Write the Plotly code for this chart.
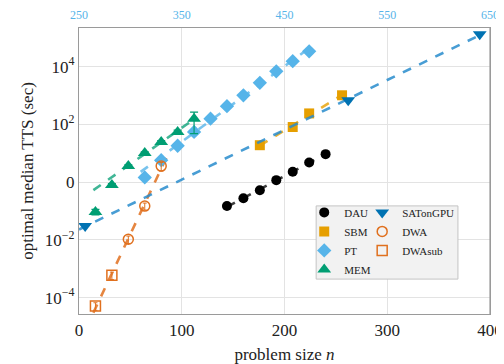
import numpy as np
import plotly.graph_objects as go

# ---- data ----
dau_n = [144, 160, 176, 192, 208, 224, 240]
dau_t = [0.148, 0.275, 0.52, 1.17, 2.3, 4.8, 9.3]

sbm_n = [176, 208, 224, 256]
sbm_t = [19, 81, 240, 1020]

pt_n = [64, 80, 96, 112, 128, 144, 160, 176, 192, 208, 224]
pt_t = [1.45, 5.75, 18.2, 55, 158, 427, 1020, 2750, 6900, 15500, 34000]

mem_n = [16, 32, 48, 64, 80, 96, 112]
mem_t = [0.093, 0.79, 3.6, 10.2, 24.5, 55, 158]
mem_err = [0.02, 0.1, 0.4, 1.0, 3, 8, 110]

sat_n = [256, 512, 640]          # top axis (n offset)
sat_t = [0.03, 690, 132000]

dwa_n = [48, 64, 80]
dwa_t = [0.0105, 0.148, 3.6]
dwa_err = [0.003, 0.04, 1.2]

dwasub_n = [16, 32]
dwasub_t = [0.000051, 0.00059]
dwasub_err = [0.000015, 0.00017]

xticks_bottom = [0, 100, 200, 300, 400]
xticks_top = [250, 350, 450, 550, 650]
yticks = [1e-4, 1e-2, 1, 1e2, 1e4]
yticklabels = ["10<sup>−4</sup>", "10<sup>−2</sup>", "0", "10<sup>2</sup>", "10<sup>4</sup>"]

C_DAU = "#000000"
C_SBM = "#E69F00"
C_PT = "#56B4E9"
C_MEM = "#009E73"
C_SAT = "#0072B2"
C_DWA = "#E0701E"

FONT = "Liberation Serif"


def fit_line(n, t, lo, hi, use=None):
    n = np.asarray(n, float)
    t = np.asarray(t, float)
    if use is not None:
        n, t = n[use], t[use]
    a, b = np.polyfit(n, np.log10(t), 1)
    xs = np.linspace(lo, hi, 50)
    return xs, 10 ** (a * xs + b)


fig = go.Figure()


def add_fit(xs, ys, color, xaxis="x"):
    fig.add_trace(go.Scatter(x=xs, y=ys, mode="lines", xaxis=xaxis,
                             line=dict(color=color, width=2.6, dash="dash"),
                             showlegend=False, hoverinfo="skip"))


# fit lines
xs, ys = fit_line(dau_n, dau_t, 144, 240); add_fit(xs, ys, "rgba(40,40,40,0.9)")
xs, ys = fit_line(sbm_n, sbm_t, 176, 256); add_fit(xs, ys, "rgba(230,159,0,0.8)")
xs, ys = fit_line(pt_n, pt_t, 60, 224, use=slice(1, None)); add_fit(xs, ys, "rgba(86,180,233,0.8)")
xs, ys = fit_line(mem_n, mem_t, 14, 112, use=slice(2, None)); add_fit(xs, ys, "rgba(0,158,115,0.75)")
xs, ys = fit_line(sat_n, sat_t, 250, 640); add_fit(xs, ys, "rgba(40,140,205,0.85)", xaxis="x2")
xs, ys = fit_line(dwasub_n + dwa_n, dwasub_t + dwa_t, 14, 85); add_fit(xs, ys, "rgba(224,112,30,0.85)")

# markers: column 1 -> legend, column 2 -> legend2
fig.add_trace(go.Scatter(x=dau_n, y=dau_t, mode="markers", name="DAU", legend="legend",
                         marker=dict(symbol="circle", size=10, color=C_DAU)))
fig.add_trace(go.Scatter(x=sbm_n, y=sbm_t, mode="markers", name="SBM", legend="legend",
                         marker=dict(symbol="square", size=10, color=C_SBM)))
fig.add_trace(go.Scatter(x=pt_n, y=pt_t, mode="markers", name="PT", legend="legend",
                         marker=dict(symbol="diamond", size=11, color=C_PT)))
fig.add_trace(go.Scatter(x=mem_n, y=mem_t, mode="markers", name="MEM", legend="legend",
                         error_y=dict(type="data", array=mem_err, color=C_MEM,
                                      thickness=1.2, width=4),
                         marker=dict(symbol="triangle-up", size=12, color=C_MEM)))
fig.add_trace(go.Scatter(x=sat_n, y=sat_t, mode="markers", name="SATonGPU", xaxis="x2",
                         legend="legend2",
                         marker=dict(symbol="triangle-down", size=12, color=C_SAT)))
fig.add_trace(go.Scatter(x=dwa_n, y=dwa_t, mode="markers", name="DWA", legend="legend2",
                         error_y=dict(type="data", array=dwa_err, color=C_DWA,
                                      thickness=1, width=2),
                         marker=dict(symbol="circle-open", size=10, color=C_DWA,
                                     line=dict(width=1.5))))
fig.add_trace(go.Scatter(x=dwasub_n, y=dwasub_t, mode="markers", name="DWAsub",
                         legend="legend2",
                         error_y=dict(type="data", array=dwasub_err, color=C_DWA,
                                      thickness=1, width=2),
                         marker=dict(symbol="square-open", size=10, color=C_DWA,
                                     line=dict(width=1.5))))

axis_common = dict(showline=True, linecolor="#9a9a9a", linewidth=1.2,
                   gridcolor="#e3e3e3", gridwidth=1, zeroline=False, ticks="",
                   automargin=False)

leg_common = dict(orientation="v", xanchor="left", yanchor="top",
                  bgcolor="rgba(0,0,0,0)", borderwidth=0,
                  font=dict(size=11, family=FONT, color="#222"),
                  itemwidth=30, tracegroupgap=0)

# page body adds an 8px offset, so the figure is sized to fit the 504x364 window
fig.update_layout(
    width=496, height=356,
    margin=dict(l=71, r=14, t=20, b=50),
    paper_bgcolor="white", plot_bgcolor="white",
    font=dict(family=FONT, size=14, color="#222"),
    xaxis=dict(range=[0, 400], tickvals=xticks_bottom,
               title=dict(text="problem size <i>n</i>", font=dict(size=17)),
               tickfont=dict(size=17), **axis_common),
    xaxis2=dict(range=[250, 650], overlaying="x", side="top", tickvals=xticks_top,
                showgrid=False, showline=True, linecolor="#9a9a9a", linewidth=1.2,
                zeroline=False, automargin=False, ticklabelstandoff=3,
                tickfont=dict(size=12, color=C_PT)),
    yaxis=dict(type="log", range=[-4.57, 5.34], tickvals=yticks, ticktext=yticklabels,
               mirror=True, tickfont=dict(size=17),
               title=dict(text="optimal median TTS (sec)", font=dict(size=17), standoff=6),
               **axis_common),
    legend=dict(x=0.548, y=0.406, **leg_common),
    legend2=dict(x=0.689, y=0.406, **leg_common),
    showlegend=True,
)

# legend frame (shared box behind both legend columns)
fig.add_shape(type="rect", xref="paper", yref="paper", x0=0.577, x1=0.922,
              y0=0.122, y1=0.378, layer="above",
              fillcolor="#f2f2f2", line=dict(color="#c4c4c4", width=1))

# right border of plot frame
fig.add_shape(type="line", xref="paper", yref="paper", x0=1, x1=1, y0=0, y1=1,
              line=dict(color="#9a9a9a", width=1.2))

fig.write_html("out.html")
